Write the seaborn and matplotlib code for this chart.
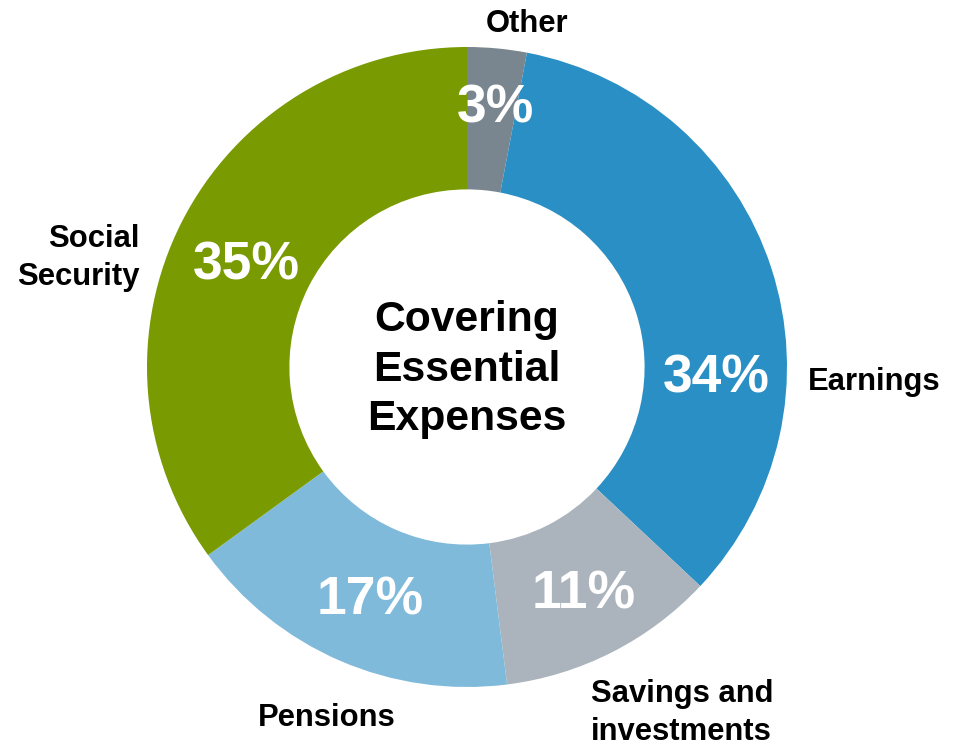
import matplotlib
matplotlib.use("Agg")
import matplotlib.pyplot as plt
import seaborn as sns

# data (clockwise from the top)
categories = ["Other", "Earnings", "Savings and\ninvestments", "Pensions", "Social\nSecurity"]
shares = [3, 34, 11, 17, 35]
colors = ["#79868f", "#2a8fc4", "#abb4bd", "#80bada", "#799a01"]

sns.set_theme(style="white")
plt.rcParams["font.family"] = ["Liberation Sans", "DejaVu Sans"]

W, H = 957, 748
cx, cy, R = 467, 367, 320
fig = plt.figure(figsize=(W / 100, H / 100), dpi=100)
ax = fig.add_axes([(cx - R) / W, (H - cy - R) / H, 2 * R / W, 2 * R / H])

wedges, _ = ax.pie(shares, colors=colors, startangle=90, counterclock=False,
                   radius=1.0, wedgeprops=dict(width=0.445, edgecolor="none"))
ax.set_xlim(-1, 1)
ax.set_ylim(-1, 1)
ax.set_aspect("equal")
ax.axis("off")

# percent labels inside the ring (placed by hand, as in the original)
pct_pos = [(0.0875, 0.808), (0.778, -0.035), (0.366, -0.712),
           (-0.303, -0.731), (-0.691, 0.318)]
for s, (x, y) in zip(shares, pct_pos):
    ax.text(x, y, f"{s}%", ha="center", va="center", color="white",
            fontsize=38.5, fontweight="bold", clip_on=False)

# outer category labels
label_pos = [(0.1875, 1.072, "center"), (1.066, -0.047, "left"),
             (0.388, -1.08, "left"), (-0.4375, -1.096, "center"),
             (-1.022, 0.342, "right")]
for name, (x, y, ha) in zip(categories, label_pos):
    ax.text(x, y, name, ha=ha, va="center", fontsize=22.3, fontweight="bold",
            color="black", multialignment=ha, linespacing=1.35, clip_on=False)

ax.text(0, -0.008, "Covering\nEssential\nExpenses", ha="center", va="center",
        fontsize=30.7, fontweight="bold", color="black", linespacing=1.3)

fig.savefig("out.png", dpi=100, facecolor="white")
